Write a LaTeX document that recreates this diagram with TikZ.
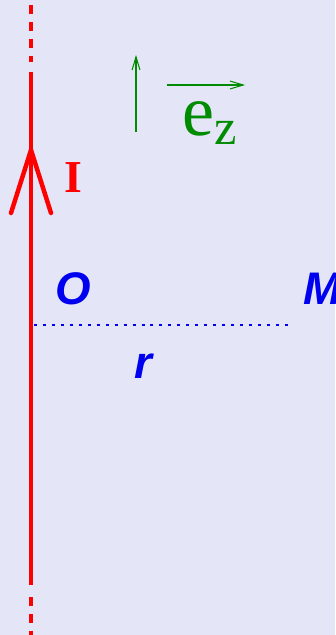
\documentclass[tikz,border=0pt]{standalone}
\usepackage{fontspec}
\setmainfont{Liberation Serif}
\setsansfont{Liberation Sans}
\usetikzlibrary{arrows.meta}
\definecolor{bgfill}{RGB}{229,229,248}
\definecolor{wire}{RGB}{255,0,0}
\definecolor{axis}{RGB}{0,140,0}
\definecolor{pt}{RGB}{0,0,240}
\begin{document}
\begin{tikzpicture}[
		x=0.02cm, y=-0.02cm,
		wire line/.style={wire, line width=2.55pt},
		wire dash/.style={wire, line width=2.55pt, dash pattern=on 5.1pt off 4.5pt},
		unit arrow/.style={axis, line width=0.6pt, -{Straight Barb[length=7.5pt, width=4.5pt]}},
		point label/.style={pt, font=\sffamily\bfseries\itshape\fontsize{26}{26}\selectfont},
		radius line/.style={pt, line width=1.7pt, dash pattern=on 1.7pt off 3.4pt}
		]
		
		% ---------------------------------------------------------
		% Background
		% ---------------------------------------------------------
		\fill[bgfill] (0,0) rectangle (335,635);
		\useasboundingbox (0,0) rectangle (335,635);
		
		% ---------------------------------------------------------
		% Wire carrying the current I
		% ---------------------------------------------------------
		\coordinate (wire top) at (31,72);
		\coordinate (wire bot) at (31,585);
		\coordinate (wire end top) at (31,5);
		\coordinate (wire end bot) at (31,635);
		\draw[wire line] (wire top) -- (wire bot);
		\draw[wire dash] (wire end top) -- (31,62);
		\draw[wire dash] (31,597) -- (wire end bot);
		
		% Arrow of the current
		\coordinate (tip) at (31,150);
		\draw[wire line, line cap=round] (11,213) -- (tip) -- (51,213);
		\node[wire, font=\bfseries\fontsize{26}{26}\selectfont] (I) at (73,178) {I};
		
		% ---------------------------------------------------------
		% Unit vector e_z
		% ---------------------------------------------------------
		\coordinate (ez foot) at (136,132);
		\coordinate (ez head) at (136,55);
		\draw[unit arrow] (ez foot) -- (ez head);
		\coordinate (ex foot) at (167,85);
		\coordinate (ex head) at (245,85);
		\draw[unit arrow] (ex foot) -- (ex head);
		\node[axis, font=\fontsize{41}{41}\selectfont] (ez) at (210,123) {e\textsubscript{z}};
		
		% ---------------------------------------------------------
		% Points O and M, distance r
		% ---------------------------------------------------------
		\node[point label] (O) at (73,289) {O};
		\node[point label, anchor=west] (M) at (297,289) {M};
		\coordinate (r start) at (34,325);
		\coordinate (r end) at (293,325);
		\draw[radius line] (r start) -- (r end);
		\node[point label] (r) at (143,366) {r};
		
	\end{tikzpicture}
\end{document}
